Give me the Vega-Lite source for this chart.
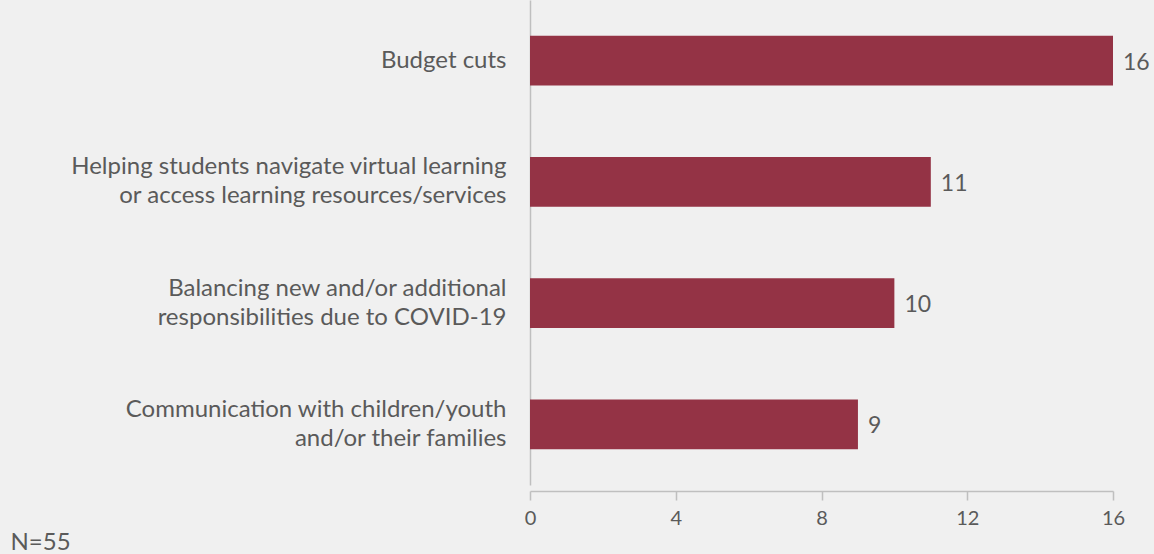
{
  "$schema": "https://vega.github.io/schema/vega-lite/v6.json",
  "autosize": {"type": "none"},
  "width": 583,
  "height": 480,
  "padding": {"left": 530, "top": 11, "right": 41, "bottom": 63},
  "background": "#f0f0f0",
  "config": {"font": "Lato", "view": {"stroke": null}},
  "data": {
    "values": [
      {"category": "Budget cuts", "value": 16},
      {"category": "Helping students navigate virtual learning|or access learning resources/services", "value": 11},
      {"category": "Balancing new and/or additional|responsibilities due to COVID-19", "value": 10},
      {"category": "Communication with children/youth|and/or their families", "value": 9}
    ]
  },
  "encoding": {
    "y": {
      "field": "category",
      "type": "nominal",
      "sort": null,
      "scale": {"range": [-11, 474], "paddingInner": 0.588, "paddingOuter": 0.294},
      "axis": {
        "title": null,
        "ticks": false,
        "tickSize": 0,
        "labelPadding": 24,
        "labelExpr": "split(datum.label, '|')",
        "labelFontSize": 24,
        "labelFontWeight": 400,
        "labelColor": "#5a5a5a",
        "labelLineHeight": 29,
        "labelLimit": 600,
        "labelOffset": {"condition": {"test": "indexof(datum.value, '|') >= 0", "value": -14.5}, "value": 0},
        "domainColor": "#bfbfbf",
        "domainWidth": 1.5
      }
    },
    "x": {
      "field": "value",
      "type": "quantitative",
      "scale": {"domain": [0, 16], "nice": false},
      "axis": {
        "title": "N=55",
        "titleAnchor": "start",
        "titleAlign": "left",
        "titleBaseline": "alphabetic",
        "titleX": -520,
        "titleY": 58,
        "titleFontSize": 24,
        "titleFontWeight": 400,
        "titleColor": "#5a5a5a",
        "values": [0, 4, 8, 12, 16],
        "grid": false,
        "tickSize": 9,
        "tickColor": "#bfbfbf",
        "tickWidth": 1.5,
        "domainColor": "#bfbfbf",
        "domainWidth": 1.5,
        "labelFontSize": 20,
        "labelFontWeight": 400,
        "labelFlush": false,
        "labelColor": "#5a5a5a",
        "labelPadding": 8
      }
    }
  },
  "layer": [
    {"mark": {"type": "bar", "color": "#943345"}},
    {
      "mark": {"type": "text", "align": "left", "baseline": "middle", "dx": 10, "dy": 2, "fontSize": 23, "fontWeight": 400, "color": "#5a5a5a"},
      "encoding": {"text": {"field": "value", "type": "quantitative"}}
    }
  ]
}
